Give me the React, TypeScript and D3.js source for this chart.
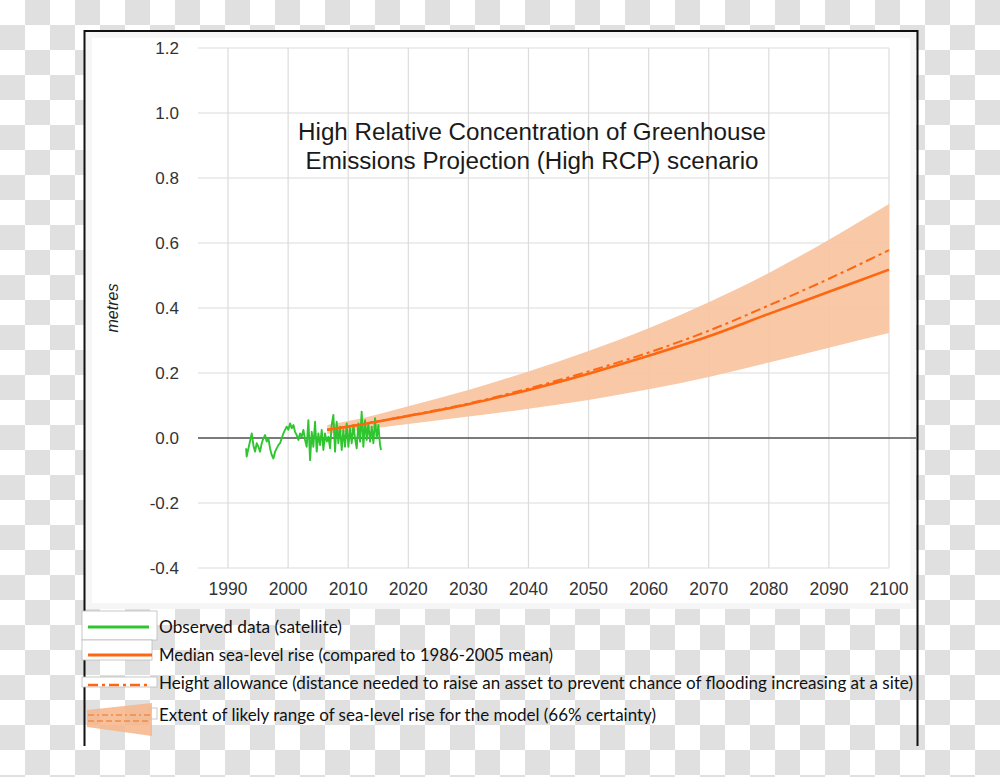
import React from "react";
import * as d3 from "d3";

const yTicks = [-0.4, -0.2, 0.0, 0.2, 0.4, 0.6, 0.8, 1.0, 1.2];
const xTicks = [1990, 2000, 2010, 2020, 2030, 2040, 2050, 2060, 2070, 2080, 2090, 2100];

const obsYears = [
  1993.0, 1993.1, 1993.39, 1993.94, 1994.22, 1994.5, 1994.77, 1995.05, 1995.33, 1995.61,
  1995.88, 1996.16, 1996.44, 1996.72, 1996.99, 1997.27, 1997.55, 1997.83, 1998.1, 1998.38,
  1998.66, 1998.93, 1999.21, 1999.49, 1999.77, 2000.04, 2000.32, 2000.6, 2000.88, 2001.15,
  2001.43, 2001.71, 2001.98, 2002.26, 2002.54, 2002.82, 2003.09, 2003.37, 2003.65, 2003.93,
  2004.2, 2004.48, 2004.76, 2005.03, 2005.31, 2005.59, 2005.87, 2006.14, 2006.42, 2006.7,
  2006.98, 2007.25, 2007.53, 2007.81, 2008.08, 2008.36, 2008.64, 2008.92, 2009.19, 2009.47,
  2009.75, 2010.03, 2010.3, 2010.58, 2010.86, 2011.13, 2011.41, 2011.69, 2011.97, 2012.24,
  2012.52, 2012.8, 2013.08, 2013.35, 2013.63, 2013.91, 2014.19, 2014.46, 2014.74, 2015.02,
  2015.3, 2015.46,
];
const obsValues = [
  -0.032, -0.057, -0.032, 0.014, -0.022, -0.042, -0.016, -0.027, -0.042, -0.016,
  -0.001, 0.009, -0.011, -0.001, -0.032, -0.052, -0.063, -0.042, -0.032, -0.022,
  -0.016, -0.001, 0.014, 0.025, 0.035, 0.025, 0.045, 0.03, 0.04, 0.019,
  0.009, -0.006, 0.014, 0.004, 0.025, -0.006, -0.027, 0.055, -0.068, 0.019,
  -0.027, 0.05, -0.042, 0.014, -0.022, 0.025, -0.037, 0.014, -0.011, 0.004,
  -0.032, 0.04, 0.071, -0.042, 0.05, -0.016, 0.035, -0.037, 0.025, -0.027,
  0.045, -0.027, 0.03, -0.016, 0.04, -0.001, -0.032, 0.045, -0.011, 0.081,
  -0.027, 0.055, -0.006, 0.045, -0.011, 0.035, -0.016, 0.061, -0.001, 0.04,
  -0.022, -0.037,
];

const projYears = [2006.5, 2010, 2020, 2030, 2040, 2050, 2060, 2070, 2080, 2090, 2100];
const medianRise = [0.025, 0.035, 0.068, 0.104, 0.148, 0.198, 0.253, 0.313, 0.382, 0.45, 0.518];
const heightAllowance = [0.025, 0.035, 0.069, 0.106, 0.152, 0.205, 0.263, 0.33, 0.408, 0.49, 0.578];
const rangeUpper = [0.04, 0.052, 0.098, 0.148, 0.205, 0.268, 0.338, 0.418, 0.508, 0.61, 0.72];
const rangeLower = [0.012, 0.02, 0.043, 0.066, 0.09, 0.117, 0.15, 0.188, 0.232, 0.278, 0.323];

const titleLines = [
  "High Relative Concentration of Greenhouse",
  "Emissions Projection (High RCP) scenario",
];
const legendLabels = [
  "Observed data (satellite)",
  "Median sea-level rise (compared to 1986-2005  mean)",
  "Height allowance (distance needed to raise an asset to prevent chance of flooding increasing at a site)",
  "Extent of likely range of sea-level rise for the model (66% certainty)",
];
const legendWidths = [183, 394, 754, 497];

const GREEN = "#2ec52e";
const ORANGE = "#ff6610";
const BAND = "#f7c3a0";

export default function App() {
  const x = d3.scaleLinear().domain([1985, 2100]).range([198, 889]);
  const y = d3.scaleLinear().domain([-0.4, 1.2]).range([568, 48]);

  const obs = obsYears.map((yr, i) => [yr, obsValues[i]] as [number, number]);
  const proj = projYears.map((yr, i) => ({
    yr,
    med: medianRise[i],
    allow: heightAllowance[i],
    up: rangeUpper[i],
    lo: rangeLower[i],
  }));

  const obsLine = d3
    .line<[number, number]>()
    .x((d) => x(d[0]))
    .y((d) => y(d[1]));
  const medLine = d3
    .line<any>()
    .curve(d3.curveMonotoneX)
    .x((d) => x(d.yr))
    .y((d) => y(d.med));
  const allowLine = d3
    .line<any>()
    .curve(d3.curveMonotoneX)
    .x((d) => x(d.yr))
    .y((d) => y(d.allow));
  const bandArea = d3
    .area<any>()
    .curve(d3.curveMonotoneX)
    .x((d) => x(d.yr))
    .y0((d) => y(d.lo))
    .y1((d) => y(d.up));

  const legendRows = [627, 655, 683, 715];
  const sans = "'Liberation Sans', Arial, Helvetica, sans-serif";
  const legendFont = "Lato, 'Open Sans', sans-serif";

  return (
    <svg
      width={1000}
      height={777}
      style={{ position: "absolute", left: 0, top: 0 }}
      xmlns="http://www.w3.org/2000/svg"
    >
      <defs>
        <pattern id="checker" width={50} height={50} patternUnits="userSpaceOnUse">
          <rect x={0} y={0} width={50} height={50} fill="#ffffff" />
          <rect x={25} y={0} width={25} height={25} fill="#e0e0e0" />
          <rect x={0} y={25} width={25} height={25} fill="#e0e0e0" />
        </pattern>
      </defs>
      <rect x={0} y={0} width={1000} height={777} fill="url(#checker)" />

      {/* white chart panel */}
      <rect x={85} y={32} width={831} height={577} fill="#f6f6f6" />
      <rect x={92} y={38} width={818} height={565} fill="#ffffff" />

      {/* grid */}
      {yTicks.map((t) => (
        <line
          key={"gy" + t}
          x1={x(1985)}
          x2={x(2100)}
          y1={y(t)}
          y2={y(t)}
          stroke="#dcdcdc"
          strokeWidth={1.2}
        />
      ))}
      {xTicks.map((t) => (
        <line
          key={"gx" + t}
          x1={x(t)}
          x2={x(t)}
          y1={y(1.2)}
          y2={y(-0.4)}
          stroke="#dcdcdc"
          strokeWidth={1.2}
        />
      ))}

      {/* zero line */}
      <line x1={x(1985)} x2={916} y1={y(0)} y2={y(0)} stroke="#555" strokeWidth={1.3} />

      {/* likely range band */}
      <path d={bandArea(proj) || ""} fill={BAND} opacity={0.92} />

      {/* observed */}
      <path d={obsLine(obs) || ""} fill="none" stroke={GREEN} strokeWidth={1.9} strokeLinejoin="round" />

      {/* median */}
      <path d={medLine(proj) || ""} fill="none" stroke={ORANGE} strokeWidth={2.6} />
      {/* height allowance */}
      <path
        d={allowLine(proj) || ""}
        fill="none"
        stroke={ORANGE}
        strokeWidth={2}
        strokeDasharray="10,4,3,4"
      />

      {/* y tick labels */}
      {yTicks.map((t) => (
        <text
          key={"ty" + t}
          x={179}
          y={y(t) + 6}
          textAnchor="end"
          fontFamily={sans}
          fontSize={17}
          fill="#333"
        >
          {t.toFixed(1)}
        </text>
      ))}
      {/* x tick labels */}
      {xTicks.map((t) => (
        <text
          key={"tx" + t}
          x={x(t)}
          y={595}
          textAnchor="middle"
          fontFamily={sans}
          fontSize={17.5}
          fill="#333"
        >
          {t}
        </text>
      ))}

      {/* axis title */}
      <text
        transform={`translate(118,308) rotate(-90)`}
        textAnchor="middle"
        fontFamily={sans}
        fontSize={16}
        fontStyle="italic"
        fill="#222"
      >
        metres
      </text>

      {/* chart title */}
      {titleLines.map((l, i) => (
        <text
          key={"tl" + i}
          x={532}
          y={140 + i * 29}
          textAnchor="middle"
          fontFamily={sans}
          fontSize={24.2}
          fill="#1a1a1a"
        >
          {l}
        </text>
      ))}

      {/* frame */}
      <line x1={84} x2={918} y1={31} y2={31} stroke="#111" strokeWidth={2} />
      <line x1={84.5} x2={84.5} y1={30} y2={746} stroke="#111" strokeWidth={2} />
      <line x1={917.5} x2={917.5} y1={30} y2={746} stroke="#111" strokeWidth={2} />

      {/* legend swatches */}
      <rect x={82} y={611} width={75} height={29} fill="#fff" stroke="#bbb" strokeWidth={0.8} />
      <line x1={88} x2={149} y1={legendRows[0]} y2={legendRows[0]} stroke={GREEN} strokeWidth={3} />

      <rect x={82} y={640} width={70} height={20} fill="#fff" stroke="#bbb" strokeWidth={0.8} />
      <line x1={88} x2={152} y1={legendRows[1]} y2={legendRows[1]} stroke={ORANGE} strokeWidth={3} />

      <rect x={82} y={677} width={75} height={10} fill="#fff" stroke="#bbb" strokeWidth={0.8} />
      <line
        x1={88}
        x2={150}
        y1={legendRows[2] + 2}
        y2={legendRows[2] + 2}
        stroke={ORANGE}
        strokeWidth={2.5}
        strokeDasharray="10,4,3,4"
      />

      <rect x={150} y={708} width={7} height={11} fill="#fff" stroke="#bbb" strokeWidth={0.8} />
      <polygon points="87,710 152,703 152,736 87,727" fill="#f6b58a" opacity={0.85} />
      <line x1={88} x2={150} y1={715} y2={715} stroke="#f08a4a" strokeWidth={1.5} strokeDasharray="6,3,2,3" />
      <line x1={88} x2={150} y1={721} y2={721} stroke="#f08a4a" strokeWidth={1.5} strokeDasharray="6,3" />

      {/* legend labels */}
      {legendLabels.map((l, i) => (
        <text
          key={"lg" + i}
          x={159}
          y={legendRows[i] + 6}
          fontFamily={legendFont}
          fontSize={17}
          fill="#111"
          textLength={legendWidths[i]}
          lengthAdjust="spacingAndGlyphs"
        >
          {l}
        </text>
      ))}
    </svg>
  );
}
